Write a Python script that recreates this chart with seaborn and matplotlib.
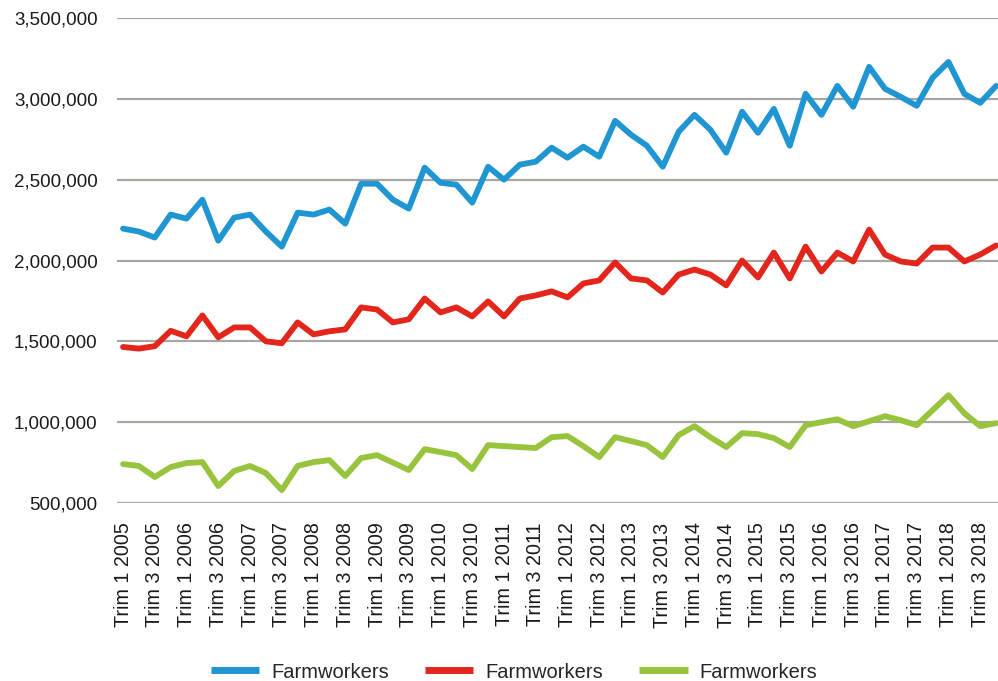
import numpy as np
import pandas as pd
import matplotlib
matplotlib.use("Agg")
import matplotlib.pyplot as plt
import seaborn as sns
from matplotlib.ticker import FuncFormatter

years = list(range(2005, 2019))
quarters = [f"Trim {q} {y}" for y in years for q in (1, 2, 3, 4)]

blue = [2197000, 2179000, 2142000, 2284000, 2259000, 2376000, 2123000, 2265000,
        2284000, 2179000, 2086000, 2296000, 2284000, 2315000, 2228000, 2475000,
        2475000, 2376000, 2321000, 2574000, 2481000, 2469000, 2358000, 2580000,
        2500000, 2593000, 2611000, 2698000, 2636000, 2704000, 2642000, 2864000,
        2778000, 2710000, 2580000, 2796000, 2901000, 2809000, 2667000, 2920000,
        2790000, 2938000, 2710000, 3031000, 2901000, 3080000, 2951000, 3198000,
        3062000, 3012000, 2957000, 3130000, 3228000, 3031000, 2975000, 3080000]

red = [1465000, 1455000, 1470000, 1565000, 1531000, 1660000, 1525000, 1586000,
       1586000, 1500000, 1488000, 1617000, 1543000, 1562000, 1574000, 1710000,
       1697000, 1617000, 1636000, 1765000, 1679000, 1710000, 1654000, 1747000,
       1654000, 1765000, 1784000, 1809000, 1772000, 1858000, 1877000, 1988000,
       1889000, 1877000, 1802000, 1913000, 1944000, 1913000, 1846000, 2000000,
       1895000, 2049000, 1889000, 2086000, 1932000, 2049000, 1994000, 2191000,
       2037000, 1994000, 1981000, 2080000, 2080000, 1994000, 2037000, 2093000]

green = [741000, 729000, 661000, 722000, 747000, 753000, 605000, 698000,
         729000, 685000, 580000, 729000, 753000, 765000, 667000, 778000,
         796000, 750000, 704000, 833000, 815000, 796000, 710000, 858000,
         852000, 846000, 840000, 907000, 914000, 852000, 784000, 907000,
         883000, 858000, 784000, 920000, 975000, 907000, 846000, 932000,
         926000, 901000, 846000, 981000, 1000000, 1018000, 975000, 1006000,
         1037000, 1012000, 981000, 1074000, 1167000, 1055000, 975000, 994000]

series_label = "Farmworkers"
colors = ["#1f95d2", "#e2261c", "#97c43c"]

df = pd.DataFrame({"idx": np.arange(len(quarters)), "quarter": quarters,
                   "blue": blue, "red": red, "green": green})

sns.set_theme(style="white")
plt.rcParams["font.family"] = ["Liberation Sans", "DejaVu Sans"]

fig = plt.figure(figsize=(9.98, 6.81), dpi=100)
ax = fig.add_axes([117 / 998, 178 / 681, 881 / 998, 485 / 681])

for col, c in zip(["blue", "red", "green"], colors):
    sns.lineplot(data=df, x="idx", y=col, ax=ax, color=c, linewidth=4.2,
                 label=series_label)

ax.set_ylim(500000, 3500000)
ax.set_yticks(np.arange(500000, 3500001, 500000))
ax.yaxis.set_major_formatter(FuncFormatter(lambda v, p: f"{int(v):,}"))
ax.set_xlim(-0.38, 55.12)
ax.set_xticks(df["idx"][::2])
ax.set_xticklabels(df["quarter"][::2], rotation=90)
ax.grid(axis="y", color="#a9a5a1", linewidth=1.6)
ax.set_axisbelow(True)
for s in ax.spines.values():
    s.set_visible(False)
ax.tick_params(axis="both", length=0, colors="#1a1a1a")
ax.tick_params(axis="y", pad=14, labelsize=13.5)
ax.tick_params(axis="x", pad=14, labelsize=14.2)
ax.set_xlabel("")
ax.set_ylabel("")

ax.legend_.remove()
handles, labels = ax.get_legend_handles_labels()
leg = fig.legend(handles, labels, loc="center",
                 bbox_to_anchor=(514 / 998, 1 - 672 / 681),
                 ncol=3, frameon=False, fontsize=14.5, handlelength=2.4,
                 handletextpad=0.6, columnspacing=1.8)
for h in leg.get_lines():
    h.set_solid_capstyle("butt")
    h.set_linewidth(5)

fig.savefig("out.png", dpi=100)
